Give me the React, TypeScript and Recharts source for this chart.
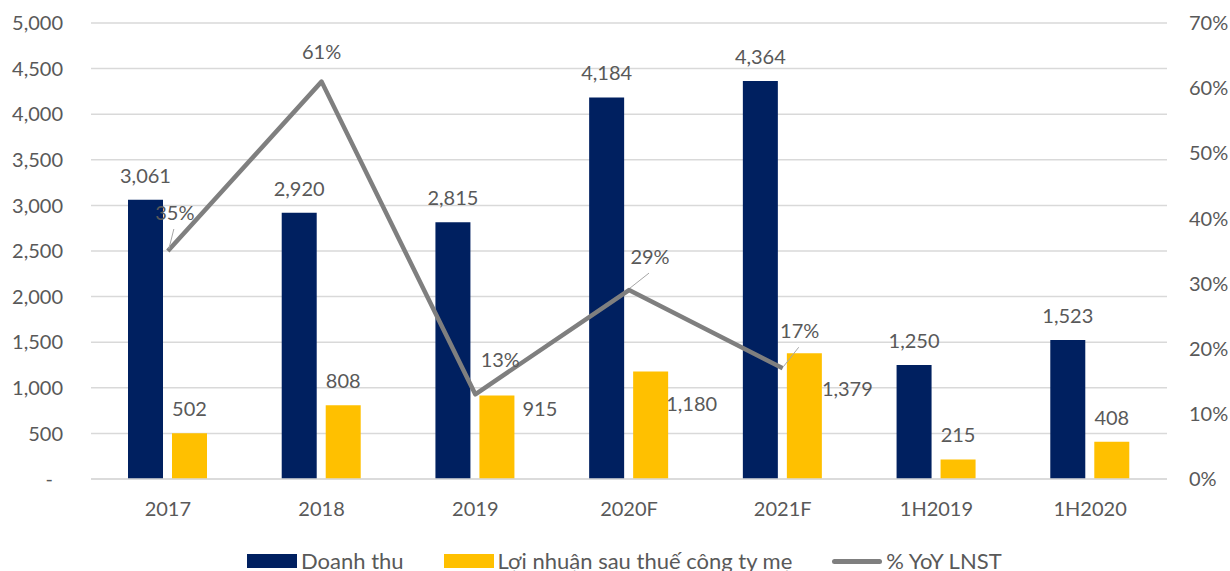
import React from 'react';
import {
    ComposedChart,
    Bar,
    Line,
    XAxis,
    YAxis,
    CartesianGrid,
    Legend,
    LabelList,
} from 'recharts';

const categories = ['2017', '2018', '2019', '2020F', '2021F', '1H2019', '1H2020'];
const revenue = [3061, 2920, 2815, 4184, 4364, 1250, 1523];
const profit = [502, 808, 915, 1180, 1379, 215, 408];
const yoyProfit = [0.35, 0.61, 0.13, 0.29, 0.17, null, null];
const leftTicks = [0, 500, 1000, 1500, 2000, 2500, 3000, 3500, 4000, 4500, 5000];
const rightTicks = [0, 0.1, 0.2, 0.3, 0.4, 0.5, 0.6, 0.7];

// labels that were dragged by hand in the original (dx, dy in px)
const profitLabelNudge: ([number, number] | null)[] = [null, null, [43, 13], [41, 32], [43, 36], null, null];
const yoyLabelNudge: ([number, number] | null)[] = [[7, -38], [0, -30], [25, -35], [21, -33], [17, -37], null, null];
const yoyLeader = [true, false, false, true, true, false, false];

const NAVY = '#002060';
const YELLOW = '#FFC000';
const GRAY = '#7F7F7F';
const TEXT = '#595959';
const FONT = 'Lato, "Liberation Sans", sans-serif';

const data = categories.map((c, i) => ({
    name: c,
    revenue: revenue[i],
    profit: profit[i],
    yoy: yoyProfit[i],
}));

const fmt = (v: number) => v.toLocaleString('en-US');

const LeftTick = (props: any) => {
    const {x, y, payload} = props;
    const v = payload.value;
    return (
        <text x={v === 0 ? x - 10 : x} y={y} dy="0.36em" textAnchor="end" fill={TEXT} fontSize={20} fontFamily={FONT}>
            {v === 0 ? '-' : fmt(v)}
        </text>
    );
};

const RevenueLabel = (props: any) => {
    const {x, y, width, value} = props;
    return (
        <text x={x + width / 2} y={y - 17} textAnchor="middle" fill={TEXT} fontSize={20} fontFamily={FONT}>
            {fmt(value)}
        </text>
    );
};

const ProfitLabel = (props: any) => {
    const {x, y, width, value, index} = props;
    const nudge = profitLabelNudge[index];
    if (nudge) {
        return (
            <text x={x + width / 2 + nudge[0]} y={y + nudge[1]} dy="0.36em" textAnchor="middle" fill={TEXT} fontSize={20} fontFamily={FONT}>
                {fmt(value)}
            </text>
        );
    }
    return (
        <text x={x + width / 2} y={y - 17} textAnchor="middle" fill={TEXT} fontSize={20} fontFamily={FONT}>
            {fmt(value)}
        </text>
    );
};

const YoyLabel = (props: any) => {
    const {x, y, value, index} = props;
    if (value == null) return null;
    const [dx, dy] = yoyLabelNudge[index] || [0, -30];
    const lx = x + dx;
    const ly = y + dy;
    return (
        <g>
            {yoyLeader[index] && (
                <line x1={lx - 1} y1={ly + 16} x2={x + 1} y2={y - 2} stroke="#A6A6A6" strokeWidth={1} />
            )}
            <text x={lx} y={ly} dy="0.36em" textAnchor="middle" fill={TEXT} fontSize={20} fontFamily={FONT}>
                {Math.round(value * 100) + '%'}
            </text>
        </g>
    );
};

const legendItems = [
    {label: 'Doanh thu', color: NAVY, kind: 'box'},
    {label: 'Lợi nhuận sau thuế công ty mẹ', color: YELLOW, kind: 'box'},
    {label: '% YoY LNST', color: GRAY, kind: 'line'},
];

const renderLegend = () => (
    <div style={{display: 'flex', alignItems: 'center', paddingLeft: 247, height: 14, fontFamily: FONT, fontSize: 22, color: TEXT}}>
        {legendItems.map((it) => (
            <div key={it.label} style={{display: 'flex', alignItems: 'center', marginRight: 40}}>
                {it.kind === 'box' ? (
                    <div style={{width: 50, height: 14, background: it.color}} />
                ) : (
                    <div style={{width: 50, height: 5, borderRadius: 3, background: it.color}} />
                )}
                <span style={{marginLeft: 4, lineHeight: '14px', whiteSpace: 'nowrap'}}>{it.label}</span>
            </div>
        ))}
    </div>
);

export default function App() {
    return (
        <div style={{position: 'absolute', left: 0, top: 0, background: '#fff'}}>
            <ComposedChart
                width={1230}
                height={571}
                data={data}
                margin={{top: 23, right: 0, left: 0, bottom: 0}}
                barGap={9}
            >
                <CartesianGrid vertical={false} stroke="#D9D9D9" strokeWidth={1.5} />
                <XAxis
                    dataKey="name"
                    height={92}
                    tickLine={false}
                    axisLine={{stroke: '#D9D9D9', strokeWidth: 1.5}}
                    tickSize={0}
                    tickMargin={23}
                    tick={{fill: TEXT, fontSize: 20, fontFamily: FONT}}
                />
                <YAxis
                    width={91}
                    domain={[0, 5000]}
                    ticks={leftTicks}
                    axisLine={false}
                    tickLine={false}
                    tickSize={0}
                    tickMargin={28}
                    tick={<LeftTick />}
                    interval={0}
                />
                <YAxis
                    yAxisId="right"
                    orientation="right"
                    width={63}
                    domain={[0, 0.7]}
                    ticks={rightTicks}
                    axisLine={false}
                    tickLine={false}
                    tickSize={0}
                    tickMargin={22}
                    interval={0}
                    tickFormatter={(v: number) => Math.round(v * 100) + '%'}
                    tick={{fill: TEXT, fontSize: 20, fontFamily: FONT, textAnchor: 'start'}}
                />
                <Legend
                    verticalAlign="middle"
                    align="center"
                    layout="horizontal"
                    content={renderLegend}
                    wrapperStyle={{top: 554, left: 0, width: 1230, height: 14}}
                />
                <Bar dataKey="revenue" name="Doanh thu" fill={NAVY} barSize={35} isAnimationActive={false}>
                    <LabelList dataKey="revenue" content={<RevenueLabel />} />
                </Bar>
                <Bar dataKey="profit" name="Lợi nhuận sau thuế công ty mẹ" fill={YELLOW} barSize={35} isAnimationActive={false}>
                    <LabelList dataKey="profit" content={<ProfitLabel />} />
                </Bar>
                <Line
                    yAxisId="right"
                    dataKey="yoy"
                    name="% YoY LNST"
                    type="linear"
                    stroke={GRAY}
                    strokeWidth={4.5}
                    strokeLinejoin="round"
                    dot={false}
                    activeDot={false}
                    isAnimationActive={false}
                >
                    <LabelList dataKey="yoy" content={<YoyLabel />} />
                </Line>
            </ComposedChart>
        </div>
    );
}
